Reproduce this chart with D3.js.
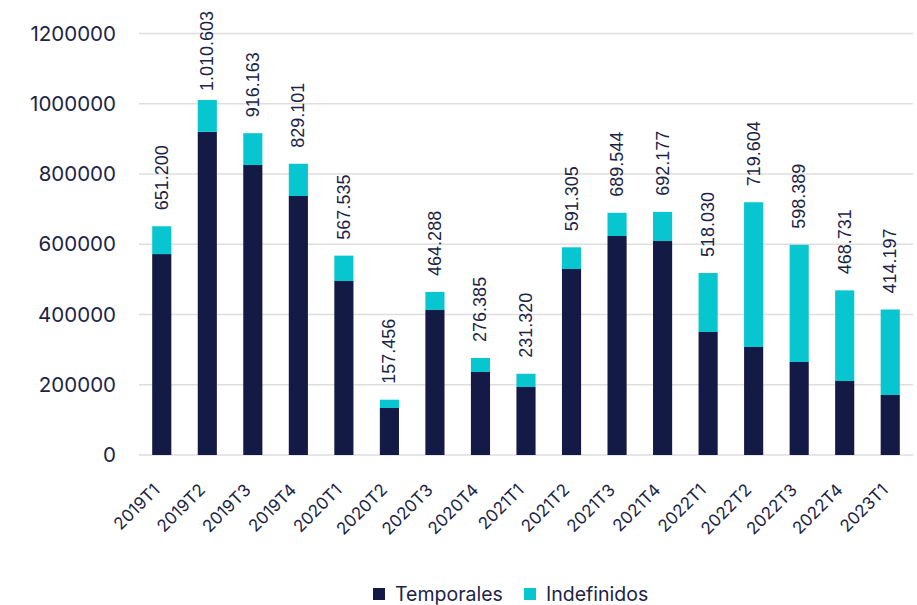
<!DOCTYPE html>
<html>
<head>
<meta charset="utf-8">
<script src="https://cdn.jsdelivr.net/npm/d3@7"></script>
<style>
  body { margin: 0; background: #fff; }
  svg { font-family: Inter, "Noto Sans", sans-serif; }
</style>
</head>
<body>
<svg id="chart"></svg>
<script>
const quarters = ["2019T1","2019T2","2019T3","2019T4","2020T1","2020T2","2020T3","2020T4","2021T1",
                  "2021T2","2021T3","2021T4","2022T1","2022T2","2022T3","2022T4","2023T1"]
const totals = [651200, 1010603, 916163, 829101, 567535, 157456, 464288, 276385, 231320,
                591305, 689544, 692177, 518030, 719604, 598389, 468731, 414197]
const temporales = [572000, 920000, 825600, 737400, 495400, 133800, 412800, 236300, 193600,
                    529500, 623500, 609300, 350200, 307500, 264800, 210700, 170800]
const totalLabels = ["651.200","1.010.603","916.163","829.101","567.535","157.456","464.288","276.385","231.320",
                     "591.305","689.544","692.177","518.030","719.604","598.389","468.731","414.197"]
const yTicks = [0, 200000, 400000, 600000, 800000, 1000000, 1200000]
const seriesNames = ["Temporales", "Indefinidos"]

const colors = { Temporales: "#131a45", Indefinidos: "#08c6d0" }
const textColor = "#1c2446"

let w = 917
let h = 605
let m = { left: 139, right: 4, top: 33.5, bottom: 150 }

let rows = quarters.map((q, i) => ({
    q: q,
    Temporales: temporales[i],
    Indefinidos: totals[i] - temporales[i],
    total: totals[i],
    label: totalLabels[i]
}))

let svg = d3.select("#chart").attr("width", w).attr("height", h)

let x = d3.scaleBand().domain(quarters).range([m.left, w - m.right]).paddingInner(0.58).paddingOuter(0.29)
let y = d3.scaleLinear().domain([0, 1200000]).range([h - m.bottom, m.top])

// gridlines
svg.append("g")
    .selectAll("line")
    .data(yTicks)
    .join("line")
    .attr("x1", m.left)
    .attr("x2", w - m.right)
    .attr("y1", d => y(d))
    .attr("y2", d => y(d))
    .attr("stroke", "#dedede")
    .attr("stroke-width", 1.3)

// y axis labels
let yAxis = svg.append("g")
    .attr("transform", `translate(${m.left},0)`)
    .call(d3.axisLeft(y).tickValues(yTicks).tickFormat(d3.format("d")).tickSize(0).tickPadding(23))
yAxis.select(".domain").remove()
yAxis.selectAll("text")
    .attr("fill", textColor)
    .style("font-size", "20.5px")
    .style("font-family", "Inter, sans-serif")

// stacked bars
let stack = d3.stack().keys(seriesNames)(rows)
svg.append("g")
    .selectAll("g")
    .data(stack)
    .join("g")
    .attr("fill", d => colors[d.key])
    .selectAll("rect")
    .data(d => d)
    .join("rect")
    .attr("x", d => x(d.data.q))
    .attr("width", x.bandwidth())
    .attr("y", d => y(d[1]))
    .attr("height", d => y(d[0]) - y(d[1]))

// total labels, rotated; the tallest one is pushed down to stay inside the top
let labels = svg.append("g")
    .selectAll("text")
    .data(rows)
    .join("text")
    .attr("text-anchor", "start")
    .attr("fill", textColor)
    .style("font-family", "'Liberation Sans', Arial, sans-serif")
    .style("font-size", "18px")
    .text(d => d.label)
labels.attr("transform", function(d) {
    let len = this.getComputedTextLength()
    let start = Math.max(y(d.total) - 16, 11 + len)
    return `translate(${x(d.q) + x.bandwidth() / 2 + 6},${start}) rotate(-90)`
})

// x axis labels
let xAxis = svg.append("g")
    .attr("transform", `translate(0,${h - m.bottom})`)
    .call(d3.axisBottom(x).tickSize(0).tickPadding(0))
xAxis.select(".domain").remove()
xAxis.selectAll("text")
    .attr("fill", textColor)
    .style("font-size", "17px")
    .style("font-family", "Inter, sans-serif")
    .attr("text-anchor", "end")
    .attr("y", 0)
    .attr("dy", 0)
    .attr("transform", "translate(-1,36) rotate(-45)")

// legend
let legend = svg.append("g").attr("transform", "translate(373,594)")
let items = [{ name: "Temporales", x: 0 }, { name: "Indefinidos", x: 151 }]
legend.selectAll("rect")
    .data(items)
    .join("rect")
    .attr("x", d => d.x)
    .attr("y", -6)
    .attr("width", 12)
    .attr("height", 12)
    .attr("fill", d => colors[d.name])
legend.selectAll("text")
    .data(items)
    .join("text")
    .attr("x", d => d.x + 22)
    .attr("y", 0)
    .attr("dy", "0.36em")
    .attr("fill", textColor)
    .style("font-size", "19.5px")
    .text(d => d.name)
</script>
</body>
</html>
